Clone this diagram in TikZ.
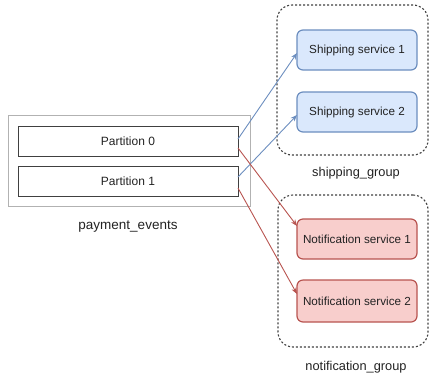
\documentclass[tikz,border=0pt]{standalone}
\usepackage{fontspec}
\setmainfont{Liberation Sans}
\usetikzlibrary{arrows.meta}
\definecolor{bluefill}{HTML}{DAE8FC}
\definecolor{bluestroke}{HTML}{6C8EBF}
\definecolor{redfill}{HTML}{F8CECC}
\definecolor{redstroke}{HTML}{B85450}
\definecolor{txt}{HTML}{222222}
\begin{document}
\begin{tikzpicture}[x=1pt,y=-1pt,
  every node/.style={inner sep=0pt, outer sep=0pt, text=txt},
  partbox/.style={draw=black!75, line width=1.0pt, minimum width=220pt, minimum height=30pt, font=\fontsize{12}{14}\selectfont},
  topicbox/.style={draw=black!30, line width=0.8pt},
  svcblue/.style={draw=bluestroke, fill=bluefill, line width=1.2pt, rounded corners=6pt, minimum width=120pt, minimum height=40pt, font=\fontsize{11.7}{13}\selectfont},
  svcred/.style={draw=redstroke, fill=redfill, line width=1.2pt, rounded corners=6pt, minimum width=120pt, minimum height=40pt, font=\fontsize{11.7}{13}\selectfont},
  groupbox/.style={draw=black!75, line width=1.1pt, dash pattern=on 2pt off 2pt, rounded corners=15pt},
  grouplabel/.style={font=\fontsize{12.8}{15}\selectfont},
  bluearrow/.style={draw=bluestroke, line width=0.9pt, -{Stealth[length=6.5pt,width=5pt]}},
  redarrow/.style={draw=redstroke, line width=0.9pt, -{Stealth[length=6.5pt,width=5pt]}}
]
\useasboundingbox (0,0) rectangle (430,376);
% groups
\node[groupbox, minimum width=151pt, minimum height=150pt] (sg) at (352.5,80) {};
\node[groupbox, minimum width=150pt, minimum height=152pt] (ng) at (353,271) {};
% topic
\node[topicbox, minimum width=242pt, minimum height=91pt] (topic) at (129,160.5) {};
\node[partbox] (p0) at (128,141) {Partition 0};
\node[partbox] (p1) at (128,181) {Partition 1};
\node[grouplabel, font=\fontsize{13.5}{16}\selectfont] (pe) at (128,227) {payment\_events};
% services
\node[svcblue] (ss1) at (357,50) {Shipping service 1};
\node[svcblue] (ss2) at (357,112) {Shipping service 2};
\node[grouplabel] (sgl) at (356,173) {shipping\_group};
\node[svcred, minimum height=40pt] (ns1) at (357,239) {Notification service 1};
\node[svcred, minimum height=42pt] (ns2) at (357,301) {Notification service 2};
\node[grouplabel] (ngl) at (356,367) {notification\_group};
% connectors
\draw[bluearrow] ([yshift=2pt]p0.east) -- ([yshift=-3pt]ss1.west);
\draw[bluearrow] ([yshift=4pt]p1.east) -- ([yshift=-3pt]ss2.west);
\draw[redarrow] ([yshift=-7pt]p0.east) -- ([yshift=13pt]ns1.west);
\draw[redarrow] ([yshift=-7pt]p1.east) -- ([yshift=7pt]ns2.west);
\end{tikzpicture}
\end{document}
